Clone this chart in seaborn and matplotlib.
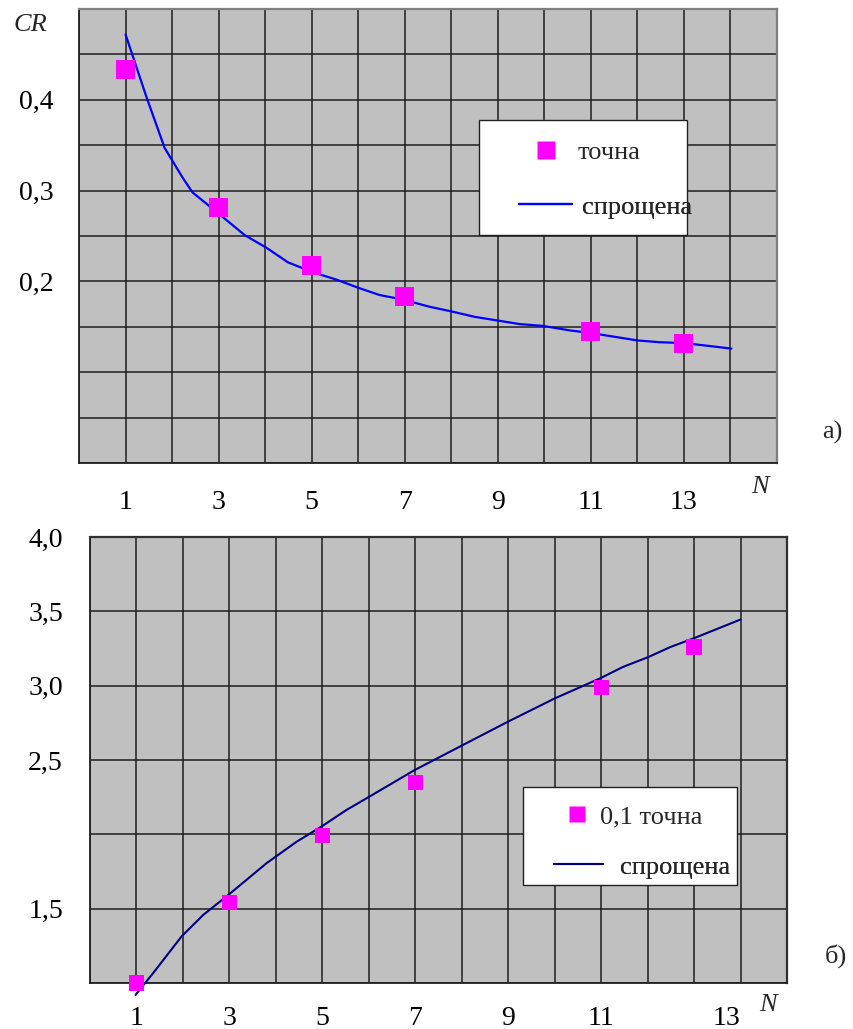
import matplotlib
matplotlib.use("Agg")
import matplotlib.pyplot as plt
import matplotlib.transforms as mtransforms
from matplotlib.patches import Rectangle
from matplotlib.lines import Line2D
import seaborn as sns
import numpy as np

# ---------------- data ----------------
# chart a)
a_N = [1, 3, 5, 7, 11, 13]
a_exact = [0.433, 0.281, 0.218, 0.183, 0.145, 0.132]
a_line_N = [1, 1.45, 1.84, 2.23, 2.44, 3.04, 3.56, 4.03, 4.49, 5.03, 5.53, 6.0,
            6.46, 6.96, 7.54, 8.0, 8.5, 9.47, 9.97, 10.55, 11.02, 12.0, 12.48,
            13.02, 14.02]
a_line_CR = [0.472, 0.403, 0.347, 0.314, 0.298, 0.273, 0.251, 0.237, 0.221,
             0.210, 0.202, 0.193, 0.185, 0.180, 0.172, 0.167, 0.161, 0.153,
             0.151, 0.146, 0.143, 0.135, 0.133, 0.132, 0.126]
a_yticks = [0.0, 0.05, 0.1, 0.15, 0.2, 0.25, 0.3, 0.35, 0.4, 0.45, 0.5]
a_ylabels = ["", "", "", "", "0,2", "", "0,3", "", "0,4", "", ""]

# chart б)
b_N = [1, 3, 5, 7, 11, 13]
b_exact = [1.00, 1.54, 1.99, 2.35, 2.99, 3.26]
b_line_N = [0.98, 1.36, 1.97, 2.44, 2.98, 3.80, 4.45, 4.98, 5.52, 6.01, 6.99,
            8.02, 8.99, 10.0, 10.97, 11.47, 12.02, 12.49, 12.98, 14.0]
b_line_v = [0.92, 1.067, 1.313, 1.459, 1.593, 1.806, 1.951, 2.052, 2.164,
            2.253, 2.433, 2.60, 2.757, 2.914, 3.048, 3.126, 3.193, 3.26,
            3.317, 3.445]
b_yticks = [1.0, 1.5, 2.0, 2.5, 3.0, 3.5, 4.0]
b_ylabels = ["", "1,5", "", "2,5", "3,0", "3,5", "4,0"]

x_ticks = list(range(0, 16))
x_labels = ["", "1", "", "3", "", "5", "", "7", "", "9", "", "11", "", "13", "", ""]

leg_a = ["точна", "спрощена"]
leg_b = ["0,1 точна", "спрощена"]

# ---------------- style ----------------
sns.set_style("white")
plt.rcParams["font.family"] = ["Liberation Serif", "DejaVu Serif"]

BG = "#c0c0c0"
MAG = "#ff00ff"
FS = 20

fig = plt.figure(figsize=(8.54, 10.29), dpi=100)
W, H = 854, 1029


def px_axes(l, t, r, b):
    return fig.add_axes([l / W, 1 - b / H, (r - l) / W, (b - t) / H])


def style_axes(ax, ylim, yticks, ylabels, spine_tr, xpad, ypad):
    ax.set_facecolor(BG)
    ax.set_xlim(0, 15)
    ax.set_ylim(*ylim)
    ax.set_xticks(x_ticks)
    ax.set_xticklabels(x_labels)
    ax.set_yticks(yticks)
    ax.set_yticklabels(ylabels)
    ax.set_axisbelow(True)
    ax.grid(True, color="#1e1e1e", lw=1.1)
    ax.tick_params(axis="both", direction="out", length=5.5, width=1.0,
                   color="#202020", labelsize=FS, labelcolor="black")
    ax.tick_params(axis="x", pad=xpad)
    ax.tick_params(axis="y", pad=ypad)
    for s in ("left", "bottom"):
        ax.spines[s].set_color("#202020")
        ax.spines[s].set_linewidth(1.3)
    for s in ("top", "right"):
        ax.spines[s].set_color(spine_tr)
        ax.spines[s].set_linewidth(1.6)
    ax.set_xlabel("")
    ax.set_ylabel("")


def legend_row(ax, handle, label, x, y, hlen, pad):
    lg = ax.legend([handle], [label], loc="center left",
                   bbox_to_anchor=(x, y), frameon=False, fontsize=FS - 1,
                   handlelength=hlen, handletextpad=pad,
                   borderpad=0, borderaxespad=0)
    lg.set_zorder(7)
    ax.add_artist(lg)
    return lg


# ---------------- chart a ----------------
ax1 = px_axes(79, 9, 777, 463)
sns.lineplot(x=a_line_N, y=a_line_CR, ax=ax1, color="#0000ff", lw=1.6,
             sort=False, estimator=None, legend=False, zorder=3)
sns.scatterplot(x=a_N, y=a_exact, ax=ax1, marker="s", s=185, color=MAG,
                edgecolor="none", linewidth=0, legend=False, zorder=4)
style_axes(ax1, (0, 0.5), a_yticks, a_ylabels, "#7f7f7f", 14, 13)

ax1.add_patch(Rectangle((0.573, 0.502), 0.298, 0.2535, transform=ax1.transAxes,
                        facecolor="white", edgecolor="#202020", lw=1.0,
                        zorder=6))
legend_row(ax1, Line2D([], [], ls="none", marker="s", ms=13, color=MAG, mec="none"),
           leg_a[0], 0.6547, 0.685, 0.76, 0.83)
legend_row(ax1, Line2D([], [], color="#0000ff", lw=1.6),
           leg_a[1], 0.6304, 0.5639, 2.0, 0.38)

# ---------------- chart б ----------------
ax2 = px_axes(90, 537, 787, 983)
sns.lineplot(x=b_line_N, y=b_line_v, ax=ax2, color="#000080", lw=1.5,
             sort=False, estimator=None, legend=False, zorder=3, clip_on=False)
sns.scatterplot(x=b_N, y=b_exact, ax=ax2, marker="s", s=120, color=MAG,
                edgecolor="none", linewidth=0, legend=False, zorder=4,
                clip_on=False)
style_axes(ax2, (1.0, 4.0), b_yticks, b_ylabels, "#303030", 11, 14)

# shift the "13" label as in the reference
for lab in ax2.get_xticklabels():
    if lab.get_text() == "13":
        lab.set_transform(lab.get_transform() +
                          mtransforms.ScaledTranslation(0.32, 0, fig.dpi_scale_trans))

ax2.add_patch(Rectangle((0.6217, 0.2197), 0.3062, 0.2201, transform=ax2.transAxes,
                        facecolor="white", edgecolor="#202020", lw=1.0,
                        zorder=6))
legend_row(ax2, Line2D([], [], ls="none", marker="s", ms=11, color=MAG, mec="none"),
           leg_b[0], 0.6844, 0.3722, 0.76, 0.49)
legend_row(ax2, Line2D([], [], color="#000080", lw=1.5),
           leg_b[1], 0.6657, 0.2601, 1.86, 0.64)

# ---------------- free texts ----------------
fig.text(30 / W, 1 - 25 / H, "CR", fontsize=FS - 1, style="italic",
         ha="center", va="center")
fig.text(760 / W, 1 - 487 / H, "N", fontsize=FS - 1, style="italic",
         ha="center", va="center")
fig.text(768 / W, 1 - 1005 / H, "N", fontsize=FS - 1, style="italic",
         ha="center", va="center")
fig.text(832 / W, 1 - 432 / H, "а)", fontsize=FS - 1, ha="center", va="center")
fig.text(836 / W, 1 - 956 / H, "б)", fontsize=FS - 1, ha="center", va="center")

fig.savefig("out.png", dpi=100, facecolor="white")
